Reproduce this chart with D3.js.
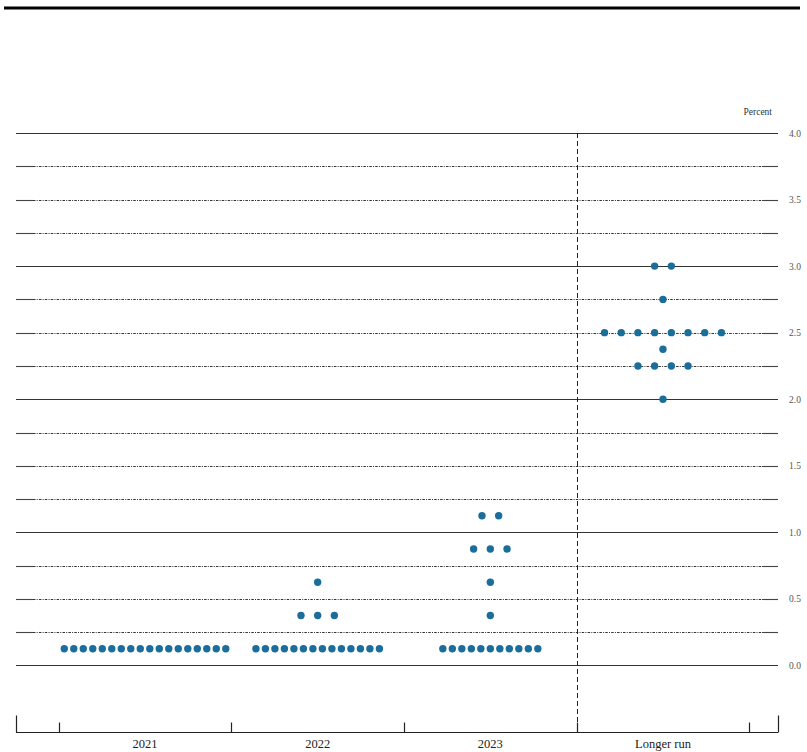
<!DOCTYPE html>
<html>
<head>
<meta charset="utf-8">
<script src="https://cdn.jsdelivr.net/npm/d3@7"></script>
<style>
  html, body { margin: 0; padding: 0; background: #fff; }
  svg { display: block; }
</style>
</head>
<body>
<script>
// ---- data ----
const categories = ["2021", "2022", "2023", "Longer run"];
const dotValues = [
  [0.125],
  [0.125, 0.375, 0.625],
  [0.125, 0.375, 0.625, 0.875, 1.125],
  [2.0, 2.25, 2.375, 2.5, 2.75, 3.0]
];
const dotCounts = [
  [18],
  [14, 3, 1],
  [11, 1, 1, 3, 2],
  [1, 4, 1, 8, 1, 2]
];
const yTickLabels = ["0.0", "0.5", "1.0", "1.5", "2.0", "2.5", "3.0", "3.5", "4.0"];
const gridValues = d3.range(0, 4.001, 0.25);
const unitLabel = "Percent";

// ---- layout ----
const W = 807, H = 752;
const plotLeft = 16, plotRight = 778;
const svg = d3.select("body").append("svg").attr("width", W).attr("height", H);

const x = d3.scaleBand().domain(categories).range([58.7, 749.3]);
const y = d3.scaleLinear().domain([-0.5, 4]).range([732, 133]);

// top rule
svg.append("line").attr("x1", 4).attr("x2", 800).attr("y1", 8).attr("y2", 8)
  .attr("stroke", "#000").attr("stroke-width", 3);

// gridlines
const grid = svg.append("g");
gridValues.forEach(v => {
  const yy = Math.round(y(v)) + 0.5;
  const solid = Math.abs(v - Math.round(v)) < 1e-9;
  if (solid) {
    grid.append("line").attr("x1", plotLeft).attr("x2", plotRight)
      .attr("y1", yy).attr("y2", yy).attr("stroke", "#333").attr("stroke-width", 1.2);
  } else {
    grid.append("line").attr("x1", plotLeft).attr("x2", plotLeft + 17)
      .attr("y1", yy).attr("y2", yy).attr("stroke", "#444").attr("stroke-width", 1.1);
    grid.append("line").attr("x1", plotLeft + 17).attr("x2", plotRight - 16)
      .attr("y1", yy).attr("y2", yy).attr("stroke", "#333").attr("stroke-width", 1.1)
      .attr("stroke-dasharray", "2.5,1.2,1,1.2");
    grid.append("line").attr("x1", plotRight - 16).attr("x2", plotRight)
      .attr("y1", yy).attr("y2", yy).attr("stroke", "#444").attr("stroke-width", 1.1);
  }
});

// right axis labels
const yAxis = d3.axisRight(y)
  .tickValues(yTickLabels.map(Number))
  .tickFormat((d, i) => yTickLabels[i])
  .tickSize(0).tickPadding(0);
const ya = svg.append("g").attr("transform", `translate(789,0)`).call(yAxis);
ya.select(".domain").remove();
ya.selectAll("text").attr("font-family", "Liberation Serif, serif")
  .attr("font-size", 9.5).attr("fill", "#555");

svg.append("text").attr("x", 772).attr("y", 115).attr("text-anchor", "end")
  .attr("font-family", "Liberation Serif, serif").attr("font-size", 9.5).attr("fill", "#333")
  .text(unitLabel);

// vertical dashed separator before longer run
const sepX = Math.round(x("Longer run")) + 0.5;
svg.append("line").attr("x1", sepX).attr("x2", sepX).attr("y1", y(4)).attr("y2", y(-0.5))
  .attr("stroke", "#222").attr("stroke-width", 1).attr("stroke-dasharray", "5,3");

// bottom axis
const by = Math.round(y(-0.5)) + 0.5;
const bottom = svg.append("g");
bottom.append("line").attr("x1", plotLeft).attr("x2", plotRight).attr("y1", by).attr("y2", by)
  .attr("stroke", "#222").attr("stroke-width", 1.2);
[plotLeft, plotRight].forEach(xx => {
  bottom.append("line").attr("x1", xx + 0.5).attr("x2", xx + 0.5).attr("y1", by - 17).attr("y2", by)
    .attr("stroke", "#222").attr("stroke-width", 1.2);
});
const bounds = categories.map(c => x(c)).concat([x(categories[categories.length - 1]) + x.bandwidth()]);
bounds.forEach(b => {
  const xx = Math.round(b) + 0.5;
  bottom.append("line").attr("x1", xx).attr("x2", xx).attr("y1", by - 10).attr("y2", by)
    .attr("stroke", "#222").attr("stroke-width", 1.2);
});
categories.forEach(c => {
  bottom.append("text").attr("x", x(c) + x.bandwidth() / 2).attr("y", 748)
    .attr("text-anchor", "middle").attr("font-family", "Liberation Serif, serif")
    .attr("font-size", 12.5).attr("fill", "#222").text(c);
});

// dots
const dotsG = svg.append("g");
categories.forEach((c, ci) => {
  const cx0 = x(c) + x.bandwidth() / 2;
  dotValues[ci].forEach((v, vi) => {
    const n = dotCounts[ci][vi];
    const sp = n > 10 ? 9.5 : 16.7;
    d3.range(n).forEach(i => {
      dotsG.append("circle")
        .attr("cx", cx0 + (i - (n - 1) / 2) * sp)
        .attr("cy", y(v))
        .attr("r", 3.7)
        .attr("fill", "#1b6e9c");
    });
  });
});
</script>
</body>
</html>
